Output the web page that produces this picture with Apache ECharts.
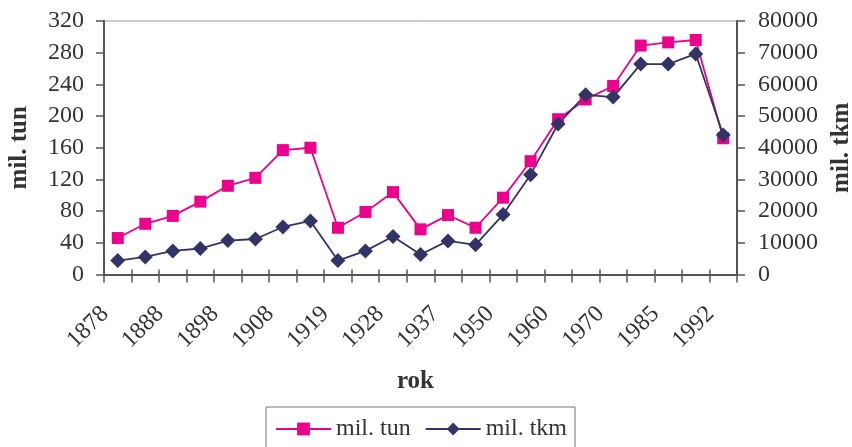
<!DOCTYPE html>
<html>
<head>
<meta charset="utf-8">
<script src="https://cdn.jsdelivr.net/npm/echarts@6/dist/echarts.min.js"></script>
<style>
  html, body { margin: 0; padding: 0; background: #fff; }
  #chart { width: 852px; height: 447px; }
</style>
</head>
<body>
<div id="chart"></div>
<script>
// Years on the category axis (only every other year is labelled)
const years = ['1878', '', '1888', '', '1898', '', '1908', '', '1919', '', '1928', '',
               '1937', '', '1950', '', '1960', '', '1970', '', '1985', '', '1992'];

// Freight carried, million tonnes (left axis)
const milTun = [46, 64, 74, 92, 112, 122, 157, 160, 59, 79, 104, 57,
                75, 59, 97, 143, 196, 221, 238, 289, 293, 296, 172];

// Freight performance, million tonne-km (right axis)
const milTkm = [4400, 5550, 7450, 8200, 10700, 11200, 15000, 16900, 4400, 7450, 12000, 6300,
                10600, 9350, 18900, 31500, 47500, 56700, 56000, 66400, 66400, 69600, 44000];

const leftTicks = { min: 0, max: 320, interval: 40 };
const rightTicks = { min: 0, max: 80000, interval: 10000 };

const serif = '"Liberation Serif", "Times New Roman", serif';
const axisColor = '#555';
const textColor = '#333';

const chart = echarts.init(document.getElementById('chart'));
chart.setOption({
  animation: false,
  backgroundColor: '#fff',
  textStyle: { fontFamily: serif },
  grid: {
    left: 104, right: 115, top: 21, bottom: 172.5,
    outerBoundsMode: 'none',
    containLabel: false,
    show: true, borderColor: '#999', borderWidth: 1
  },
  legend: {
    left: 266, top: 407,
    padding: [10, 8, 10, 9],
    borderColor: '#777', borderWidth: 1,
    itemWidth: 55, itemHeight: 16, itemGap: 14,
    textStyle: { fontFamily: serif, fontSize: 24, color: textColor },
    data: ['mil. tun', 'mil. tkm']
  },
  xAxis: [{
    type: 'category',
    data: years,
    boundaryGap: true,
    name: 'rok',
    nameLocation: 'middle',
    nameGap: 95,
    nameTextStyle: {
      fontFamily: serif, fontSize: 25, fontWeight: 'bold', color: textColor,
      padding: [0, 10, 0, 0]
    },
    axisLine: { lineStyle: { color: axisColor, width: 2 } },
    axisTick: { show: true, interval: 0, length: 8, lineStyle: { color: axisColor, width: 1.5 } },
    axisLabel: {
      interval: 0, rotate: 45, margin: 23, padding: [0, 18, 0, 0],
      fontFamily: serif, fontSize: 24, color: textColor
    },
    splitLine: { show: false }
  }, {
    // inner half of the crossing tick marks
    type: 'category',
    data: years,
    position: 'bottom',
    boundaryGap: true,
    axisLine: { show: false },
    axisTick: { show: true, inside: true, interval: 0, length: 5, lineStyle: { color: axisColor, width: 1.5 } },
    axisLabel: { show: false },
    splitLine: { show: false }
  }],
  yAxis: [{
    type: 'value',
    position: 'left',
    min: leftTicks.min, max: leftTicks.max, interval: leftTicks.interval,
    name: 'mil. tun',
    nameLocation: 'middle',
    nameRotate: 90,
    nameGap: 72,
    nameTextStyle: { fontFamily: serif, fontSize: 25, fontWeight: 'bold', color: textColor },
    axisLine: { show: true, lineStyle: { color: axisColor, width: 2 } },
    axisTick: { show: true, length: 8, lineStyle: { color: axisColor, width: 1.5 } },
    axisLabel: { margin: 20, fontFamily: serif, fontSize: 24, color: textColor },
    splitLine: { show: false }
  }, {
    type: 'value',
    position: 'right',
    min: rightTicks.min, max: rightTicks.max, interval: rightTicks.interval,
    name: 'mil. tkm',
    nameLocation: 'middle',
    nameRotate: 90,
    nameGap: 92,
    nameTextStyle: { fontFamily: serif, fontSize: 25, fontWeight: 'bold', color: textColor },
    axisLine: { show: true, lineStyle: { color: axisColor, width: 2 } },
    axisTick: { show: true, length: 8, lineStyle: { color: axisColor, width: 1.5 } },
    axisLabel: {
      margin: 21, fontFamily: serif, fontSize: 24, color: textColor,
      formatter: v => String(v)
    },
    splitLine: { show: false }
  }],
  series: [{
    name: 'mil. tun',
    type: 'line',
    yAxisIndex: 0,
    data: milTun,
    symbol: 'rect',
    symbolSize: 12,
    lineStyle: { color: '#EC008C', width: 1.8 },
    itemStyle: { color: '#EC008C' }
  }, {
    name: 'mil. tkm',
    type: 'line',
    yAxisIndex: 1,
    data: milTkm,
    symbol: 'diamond',
    symbolSize: 15,
    lineStyle: { color: '#333366', width: 1.8 },
    itemStyle: { color: '#333366' },
    z: 3
  }]
});
</script>
</body>
</html>
